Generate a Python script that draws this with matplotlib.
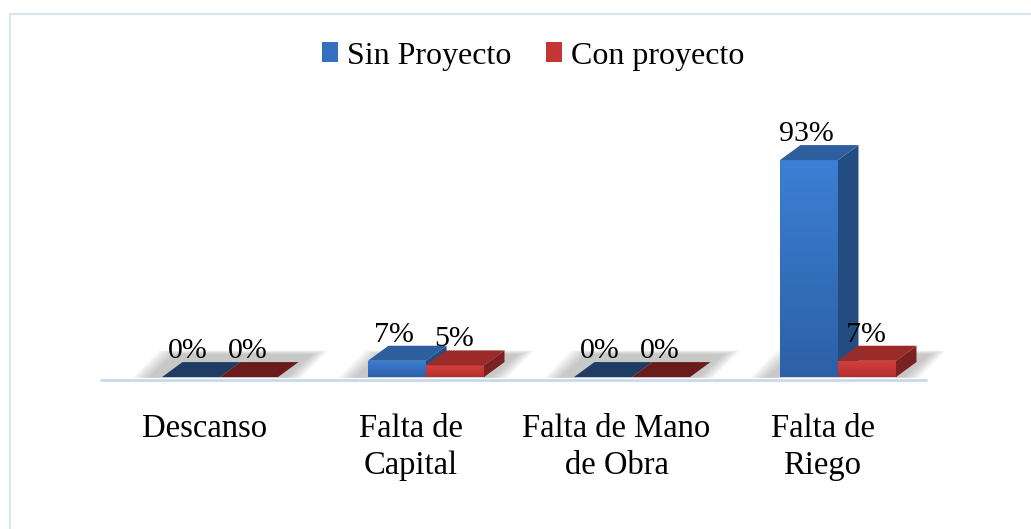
import numpy as np
import matplotlib
matplotlib.use("Agg")
import matplotlib.pyplot as plt
from matplotlib.patches import Polygon, Rectangle, Patch
from matplotlib.colors import LinearSegmentedColormap

plt.rcParams['font.family'] = ['Liberation Serif', 'DejaVu Serif']

# data
categorias = ["Descanso", "Falta de\nCapital", "Falta de Mano\nde Obra", "Falta de\nRiego"]
sin_proyecto = [0, 7, 0, 93]
con_proyecto = [0, 5, 0, 7]
series = ["Sin Proyecto", "Con proyecto"]

# 3d look
w = 0.2816      # bar width (x units)
dx = 0.0995     # depth offset in x
dy = 6.43       # depth offset in y (%)

azul = dict(top='#2d5f9e', side='#234d80', zero='#1f3c64', grad=['#3c7fd4', '#2c60a6'])
rojo = dict(top='#9b2b29', side='#7b2121', zero='#6a1c1c', grad=['#d6403d', '#b3302e'])

fig = plt.figure(figsize=(10.31, 5.29), dpi=100)
ax = fig.add_axes([0, 0, 1, 1])
ax.set_xlim(-1.068, 3.937)
ax.set_ylim(-65.1, 161.6)
ax.axis('off')

# outer frame
fig.patches.append(Rectangle((10/1031, -0.2), 1.2, 1.2 - 14/529, transform=fig.transFigure,
                             fill=False, edgecolor='#dbe5f1', lw=1.5))


def barra(x0, v, c):
    # front face with gradient
    if v > 0:
        front = Rectangle((x0, 0), w, v, facecolor='none', edgecolor='none')
        ax.add_patch(front)
        cmap = LinearSegmentedColormap.from_list('g', c['grad'])
        grad = np.linspace(0, 1, 100).reshape(-1, 1)
        im = ax.imshow(grad, cmap=cmap, extent=(x0, x0 + w, 0, v), aspect='auto',
                       origin='upper', zorder=3)
        im.set_clip_path(front)
        # side
        ax.add_patch(Polygon([(x0 + w, 0), (x0 + w + dx, dy), (x0 + w + dx, v + dy), (x0 + w, v)],
                             closed=True, facecolor=c['side'], edgecolor='none', zorder=3))
        topc = c['top']
    else:
        topc = c['zero']
    ax.add_patch(Polygon([(x0, v), (x0 + w, v), (x0 + w + dx, v + dy), (x0 + dx, v + dy)],
                         closed=True, facecolor=topc, edgecolor='none', zorder=3))


for i in range(len(categorias)):
    # soft floor shadow
    for k in range(7):
        e = 0.012 * k
        ax.add_patch(Polygon([(i - w - 0.07 - e, -0.3), (i + w + 0.04 + e, -0.3),
                              (i + w + 0.04 + dx + 0.03 + e, dy + 3.5 + e * 20),
                              (i - w - 0.07 + dx + 0.03 - e, dy + 3.5 + e * 20)],
                             closed=True, facecolor='#7f7f7f', alpha=0.07, edgecolor='none', zorder=1))
    barra(i - w, sin_proyecto[i], azul)
    barra(i, con_proyecto[i], rojo)
    ax.text(i - w / 2 - 0.015, sin_proyecto[i] + dy + 1.8, f"{sin_proyecto[i]}%",
            ha='center', va='baseline', fontsize=21.5, zorder=5)
    ax.text(i + w / 2 - 0.005, con_proyecto[i] + dy + 1.8, f"{con_proyecto[i]}%",
            ha='center', va='baseline', fontsize=21.5, zorder=5)
    ax.text(i - 0.075, -15.5, categorias[i], ha='center', va='top', fontsize=23.5,
            linespacing=1.27, zorder=5)

# axis line
ax.plot([-0.583, 3.432], [-1.3, -1.3], color='#c8d9ee', lw=2, zorder=2, solid_capstyle='butt')

handles = [Patch(facecolor='#3470bf', edgecolor='none'), Patch(facecolor='#c43633', edgecolor='none')]
fig.legend(handles, series, loc='center', bbox_to_anchor=(0.517, 0.894), ncol=2, frameon=False,
           fontsize=23, handlelength=0.5, handleheight=0.6, handletextpad=0.28, columnspacing=1.1)

fig.savefig("out.png", dpi=100)
